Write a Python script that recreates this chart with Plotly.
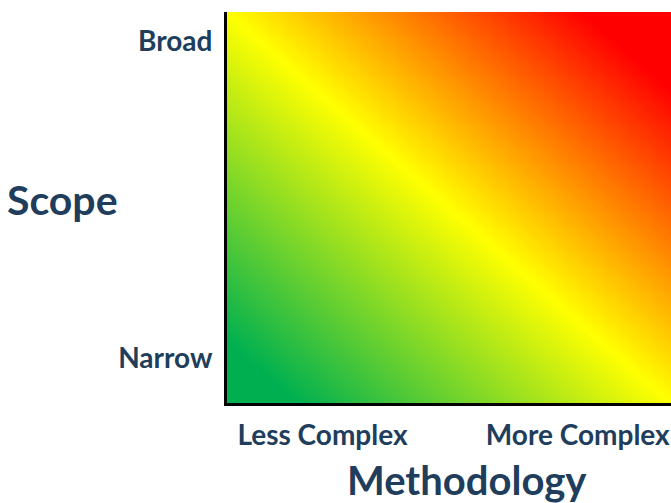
import numpy as np
import plotly.graph_objects as go

# ---- chart content ----
x_tick_vals = [0.215, 0.79]
x_tick_labels = ["Less Complex", "More Complex"]
y_tick_vals = [0.115, 0.925]
y_tick_labels = ["Narrow", "Broad"]
x_title = "Methodology"
y_title = "Scope"

# gradient: value = methodology + scope (0 .. 2)
gradient_stops = [0.0, 0.08, 0.5, 0.9, 1.0]
gradient_colors = ["#00b050", "#00b050", "#ffff00", "#ff0000", "#ff0000"]

grid_x = np.linspace(0, 1, 121)
grid_y = np.linspace(0, 1, 121)
risk = grid_x[None, :] + grid_y[:, None]

TEXT = "#203d5c"
FONT = "Lato"

fig = go.Figure(
    go.Heatmap(
        x=grid_x,
        y=grid_y,
        z=risk,
        zmin=0,
        zmax=2,
        zsmooth="best",
        colorscale=[[s, c] for s, c in zip(gradient_stops, gradient_colors)],
        showscale=False,
        hoverinfo="skip",
    )
)

W, H = 671, 503
L, R, T, B = 227, 0, 12, 100
pw, ph = W - L - R, H - T - B

fig.update_layout(
    width=W,
    height=H,
    margin=dict(l=L, r=R, t=T, b=B, pad=0),
    paper_bgcolor="white",
    plot_bgcolor="white",
    showlegend=False,
    xaxis=dict(
        range=[0, 1],
        showgrid=False,
        zeroline=False,
        showline=True,
        linecolor="black",
        linewidth=3,
        tickmode="array",
        tickvals=x_tick_vals,
        ticktext=x_tick_labels,
        ticks="",
        ticklabelstandoff=5,
        tickfont=dict(family=FONT, size=28, color=TEXT, weight="bold"),
        fixedrange=True,
    ),
    yaxis=dict(
        range=[0, 1],
        showgrid=False,
        zeroline=False,
        showline=True,
        linecolor="black",
        linewidth=3,
        tickmode="array",
        tickvals=y_tick_vals,
        ticktext=y_tick_labels,
        ticks="",
        ticklabelstandoff=6,
        tickfont=dict(family=FONT, size=28, color=TEXT, weight="bold"),
        fixedrange=True,
    ),
    annotations=[
        dict(
            text=y_title,
            xref="paper",
            yref="paper",
            x=(62 - L) / pw,
            y=(H - B - 199) / ph,
            xanchor="center",
            yanchor="middle",
            showarrow=False,
            font=dict(family=FONT, size=41, color=TEXT, weight="bold"),
        ),
        dict(
            text=x_title,
            xref="paper",
            yref="paper",
            x=(467 - L) / pw,
            y=(H - B - 480) / ph,
            xanchor="center",
            yanchor="middle",
            showarrow=False,
            font=dict(family=FONT, size=40, color=TEXT, weight="bold"),
        ),
    ],
)

fig.write_html(
    "out.html",
    config={"displayModeBar": False, "staticPlot": True},
    post_script="document.body.style.margin='0';",
)
